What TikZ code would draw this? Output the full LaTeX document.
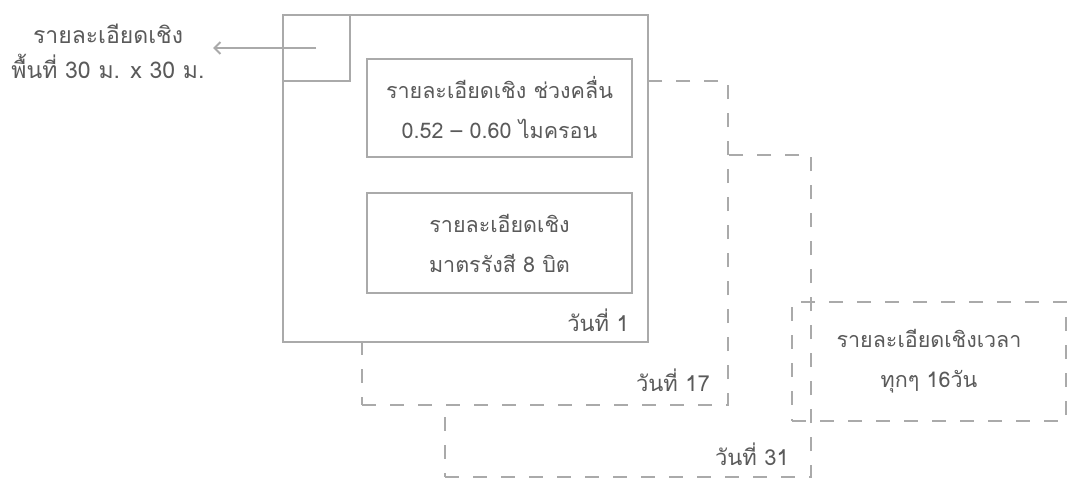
\documentclass[tikz,border=0pt]{standalone}
\usepackage{fontspec}
\setmainfont{Loma}[Script=Thai]
\usetikzlibrary{arrows.meta}
\definecolor{linegray}{RGB}{170,170,170}
\definecolor{txtgray}{RGB}{90,90,90}
\begin{document}
\begin{tikzpicture}[x=1pt,y=-1pt,
  solidbox/.style={draw=linegray, line width=2.5pt, fill=white, inner sep=0pt, outer sep=0pt, anchor=north west},
  dashbox/.style={solidbox, dash pattern=on 14pt off 14pt},
  lbl/.style={text=txtgray, font=\fontsize{21.5}{40}\selectfont, align=center, inner sep=0pt},
  daylbl/.style={text=txtgray, font=\fontsize{22}{24}\selectfont, inner sep=0pt, anchor=east}]
\useasboundingbox (0,0) rectangle (1070,479);
% stacked day frames
\node[dashbox, minimum width=366pt, minimum height=322pt] (day31) at (445,155) {};
\node[dashbox, minimum width=366pt, minimum height=324pt] (day17) at (362,81) {};
\node[solidbox, minimum width=365pt, minimum height=327pt] (day1) at (283,15) {};
\node[solidbox, fill=none, minimum width=67pt, minimum height=66pt] (pixel) at (283,15) {};
\node[solidbox, minimum width=265pt, minimum height=98pt] (spectral) at (367,59) {};
\node[solidbox, minimum width=265pt, minimum height=100pt] (radiometric) at (367,193) {};
\node[dashbox, fill=none, minimum width=274pt, minimum height=119pt] (temporal) at (792,302) {};
% texts
\node[lbl, font=\fontsize{23}{35}\selectfont] (areaTxt) at (108,51) {รายละเอียดเชิง\\พื้นที่ 30 ม. x 30 ม.};
\node[lbl] (specTxt) at (spectral.center) {รายละเอียดเชิง ช่วงคลื่น\\0.52 – 0.60 ไมครอน};
\node[lbl] (radTxt) at (radiometric.center) {รายละเอียดเชิง\\มาตรรังสี 8 บิต};
\node[lbl] (tempTxt) at (temporal.center) {รายละเอียดเชิงเวลา\\ทุกๆ 16วัน};
\node[daylbl] (d1) at (629,320) {วันที่ 1};
\node[daylbl] (d17) at (710,380) {วันที่ 17};
\node[daylbl] (d31) at (789,454) {วันที่ 31};
% arrow
\coordinate (arrowStart) at (316,48);
\coordinate (arrowEnd) at (213,48);
\draw[draw=linegray, line width=2pt, -{Straight Barb[length=6pt,width=12pt]}] (arrowStart) -- (arrowEnd);
\end{tikzpicture}
\end{document}
